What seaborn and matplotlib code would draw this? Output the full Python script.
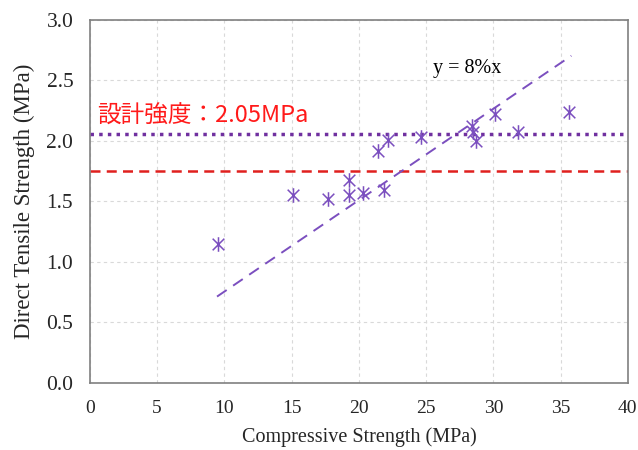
import numpy as np
import pandas as pd
import matplotlib
matplotlib.use("Agg")
import matplotlib.pyplot as plt
from matplotlib.path import Path
import seaborn as sns

# Data
compressive = [9.5, 15.1, 17.7, 19.3, 19.3, 20.3, 21.4, 21.9, 22.2, 24.6, 28.4, 28.5, 28.7, 30.1, 31.8, 35.6]
tensile     = [1.15, 1.55, 1.52, 1.68, 1.55, 1.57, 1.92, 1.59, 2.01, 2.03, 2.12, 2.07, 2.00, 2.22, 2.07, 2.24]
trend_x = [9.45, 35.8]
trend_slope = 0.0755
design_strength = 2.06
red_line = 1.75
x_ticks = [0, 5, 10, 15, 20, 25, 30, 35, 40]
y_ticks = [0.0, 0.5, 1.0, 1.5, 2.0, 2.5, 3.0]

sns.set_theme(style="white")
plt.rcParams['font.family'] = ['Liberation Serif', 'DejaVu Serif']

fig = plt.figure(figsize=(6.38, 4.5), dpi=100)
ax = fig.add_axes([0.141, 0.149, 0.843, 0.807])

purple = "#7B4FBF"
# Excel-style asterisk: X with a vertical bar
star = Path([(-0.8, -0.8), (0.8, 0.8), (-0.8, 0.8), (0.8, -0.8), (0, -1), (0, 1)],
            [Path.MOVETO, Path.LINETO, Path.MOVETO, Path.LINETO, Path.MOVETO, Path.LINETO])
df = pd.DataFrame({"x": compressive, "y": tensile})
sns.scatterplot(data=df, x="x", y="y", ax=ax, marker=star, s=110,
                color=purple, linewidth=1.1, edgecolor=purple, zorder=4)

tx = np.array(trend_x)
sns.lineplot(x=tx, y=trend_slope * tx, ax=ax, color=purple, linewidth=1.4,
             dashes=False, zorder=3)
ax.lines[-1].set_dashes([6, 4])

ax.axhline(design_strength, color="#7030A0", linestyle=(0, (1, 1.5)), linewidth=2.5, zorder=2)
ax.axhline(red_line, color="#E0201E", linestyle=(0, (4, 2.5)), linewidth=1.8, zorder=2)

ax.text(25.5, 2.6, "y = 8%x", fontsize=14.5, color="black", ha="left", va="center")
ax.text(0.5, 2.2, "設計強度：2.05MPa", fontsize=17, color="#FF1A1A", ha="left", va="center",
        family=['Noto Sans CJK JP', 'DejaVu Sans'])

ax.set_xlim(0, 40)
ax.set_ylim(0, 3.0)
ax.set_xticks(x_ticks)
ax.set_yticks(y_ticks)
ax.set_xticklabels([str(t) for t in x_ticks], fontsize=14)
ax.set_yticklabels([f"{t:.1f}" for t in y_ticks], fontsize=15.5)
ax.tick_params(axis="x", length=0, pad=12)
ax.tick_params(axis="y", length=0, pad=12)
ax.grid(True, color="#D9D9D9", linestyle=(0, (3, 3)), linewidth=0.8)
for s in ax.spines.values():
    s.set_color("#808080")
    s.set_linewidth(1.2)
ax.set_xlabel("Compressive Strength (MPa)", fontsize=14.5, labelpad=8)
ax.set_ylabel("Direct Tensile Strength (MPa)", fontsize=16.5, labelpad=8)

fig.savefig("out.png", dpi=100)
